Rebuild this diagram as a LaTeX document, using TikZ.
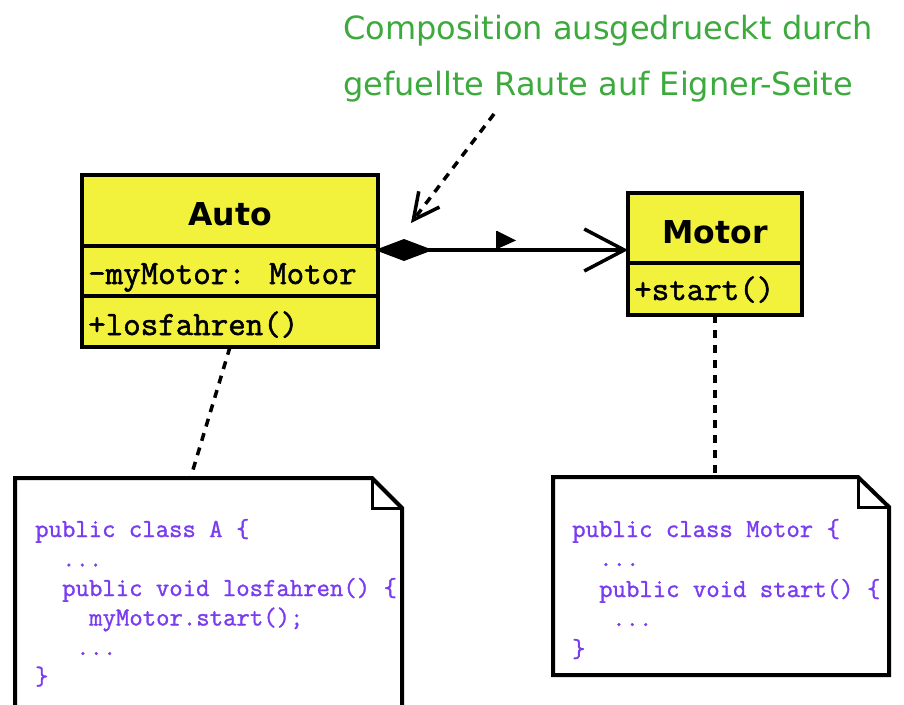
\documentclass[tikz,border=0pt]{standalone}
\usepackage{fontspec}
\setmainfont{DejaVu Sans}
\newfontfamily\memberfont[FakeBold=1.6]{Latin Modern Mono}
\newfontfamily\codefont[FakeBold=1.2]{Latin Modern Mono}
\usetikzlibrary{arrows.meta}
\definecolor{classfill}{RGB}{242,242,60}
\definecolor{remarkgreen}{RGB}{60,170,60}
\definecolor{codeviolet}{RGB}{122,60,240}
\begin{document}
\begin{tikzpicture}[x=1pt,y=-1pt,
  classpart/.style={draw=black, line width=3.5pt, fill=classfill, inner sep=0pt, outer sep=0pt},
  classtitle/.style={anchor=base, inner sep=0pt, font=\fontsize{31.5}{31.5}\selectfont\bfseries},
  member/.style={anchor=base west, inner sep=0pt, font=\fontsize{34}{34}\memberfont},
  codeline/.style={anchor=base west, inner sep=0pt, text=codeviolet, font=\fontsize{26}{26}\codefont},
  remark/.style={anchor=base west, inner sep=0pt, text=remarkgreen, font=\fontsize{32}{32}\selectfont},
  notearea/.style={inner sep=0pt, outer sep=0pt},
  noteline/.style={draw=black, line width=4pt, line join=miter},
  tieline/.style={draw=black, line width=3.5pt, dash pattern=on 8pt off 7pt},
]
\useasboundingbox (0,0) rectangle (904,704);
\fill[white] (0,0) rectangle (904,704);

% annotation
\node[remark] (rem1) at (343,39) {Composition ausgedrueckt durch};
\node[remark] (rem2) at (343,95) {gefuellte Raute auf Eigner-Seite};
\coordinate (remTail) at (494,114);
\coordinate (remTip) at (411,223);
\draw[tieline, -{Straight Barb[length=26pt,width=26pt,line width=3.5pt]}] (remTail) -- (remTip);

% class Auto
\node[classpart, minimum width=296pt, minimum height=71pt] (autoT) at (230,210.5) {};
\node[classpart, minimum width=296pt, minimum height=50pt] (autoA) at (230,271) {};
\node[classpart, minimum width=296pt, minimum height=51pt] (autoO) at (230,321.5) {};
\node[classtitle] (autoName) at (230,225) {Auto};
\node[member] (autoAttr) at (88,284) {-myMotor: Motor};
\node[member] (autoOp) at (88,335) {+losfahren()};

% class Motor
\node[classpart, minimum width=174pt, minimum height=70pt] (motorT) at (715,228) {};
\node[classpart, minimum width=174pt, minimum height=52pt] (motorO) at (715,289) {};
\node[classtitle] (motorName) at (715,243) {Motor};
\node[member] (motorOp) at (634,300) {+start()};

% composition: filled diamond at the owner, open arrow at the part
\draw[line width=3.5pt, {Diamond[length=58pt,width=22pt]}-{Straight Barb[length=40pt,width=42pt,line width=3.5pt]}]
  ([yshift=-4pt,xshift=-3pt]autoA.north east) -- ([yshift=13pt]motorT.south west);
% reading direction marker
\fill (497,231) -- (516,240.5) -- (497,249) -- cycle;
\draw[line width=2pt] (497,231) -- (497,250);

% notes
\node[notearea, minimum width=387pt, minimum height=242pt] (noteA) at (208.5,599) {};
\node[notearea, minimum width=336pt, minimum height=198pt] (noteM) at (721,576) {};

\begin{scope}
  \clip (noteA.north west) rectangle (noteA.south east);
  \node[codeline] (a1) at (35,537) {public class A \{};
  \node[codeline] (a2) at (62,566.5) {...};
  \node[codeline] (a3) at (62,596) {public void losfahren() \{};
  \node[codeline] (a4) at (89,625.5) {myMotor.start();};
  \node[codeline] (a5) at (76,655) {...};
  \node[codeline] (a6) at (35,684.5) {\}};
\end{scope}
\draw[noteline] (noteA.south west) -- (noteA.north west) -- ([xshift=-30pt]noteA.north east)
  -- ([yshift=-30pt]noteA.north east) -- (noteA.south east) -- cycle;
\draw[noteline, line width=3pt] ([xshift=-30pt]noteA.north east) -- ([xshift=-30pt,yshift=-30pt]noteA.north east)
  -- ([yshift=-30pt]noteA.north east);

\node[codeline] (m1) at (572,537) {public class Motor \{};
\node[codeline] (m2) at (599,566) {...};
\node[codeline] (m3) at (599,597) {public void start() \{};
\node[codeline] (m4) at (612,626) {...};
\node[codeline] (m5) at (572,657) {\}};
\draw[noteline] (noteM.south west) -- (noteM.north west) -- ([xshift=-31pt]noteM.north east)
  -- ([yshift=-30pt]noteM.north east) -- (noteM.south east) -- cycle;
\draw[noteline, line width=3pt] ([xshift=-31pt]noteM.north east) -- ([xshift=-31pt,yshift=-30pt]noteM.north east)
  -- ([yshift=-30pt]noteM.north east);

% note attachments
\draw[tieline] (autoO.south) -- ([xshift=-18pt]noteA.north);
\draw[tieline] (motorO.south) -- (motorO.south |- noteM.north);
\end{tikzpicture}
\end{document}
